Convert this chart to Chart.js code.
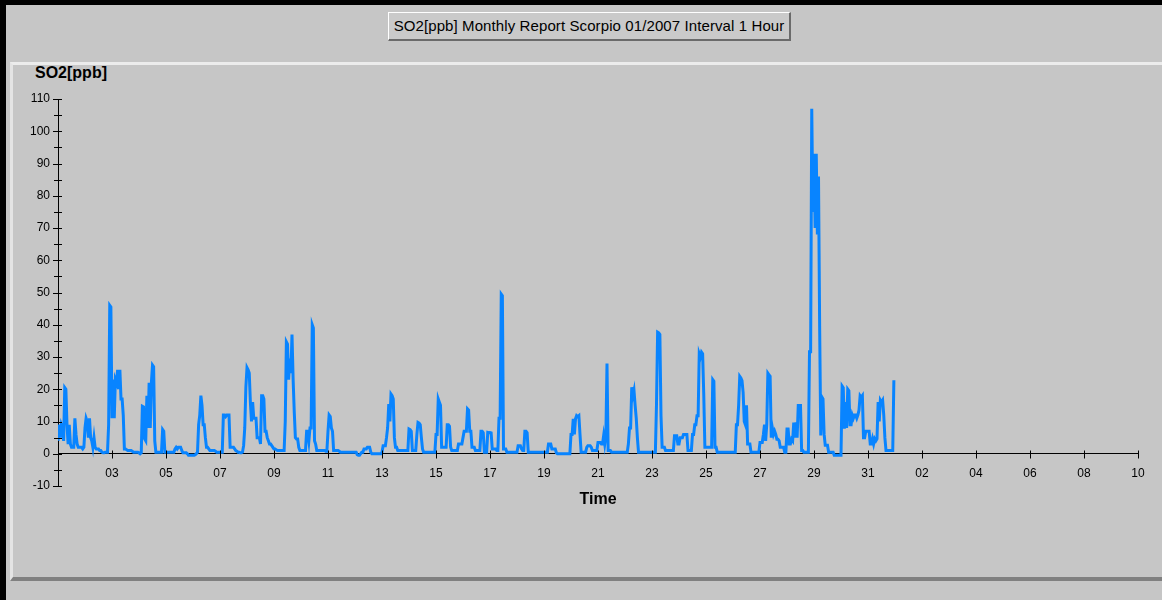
<!DOCTYPE html>
<html>
<head>
<meta charset="utf-8">
<title>SO2 Monthly Report</title>
<script src="https://cdn.jsdelivr.net/npm/chart.js@4.4.0/dist/chart.umd.min.js"></script>
<style>
  html, body { margin: 0; padding: 0; }
  body {
    width: 1162px; height: 600px; position: relative; overflow: hidden;
    background: #c6c6c6; font-family: "Liberation Sans", Arial, sans-serif;
  }
  .frame-top { position: absolute; left: 0; top: 0; width: 1162px; height: 5px; background: #000; }
  .frame-left { position: absolute; left: 0; top: 0; width: 6px; height: 600px; background: #000; }
  .panel {
    position: absolute; left: 10px; top: 62px; width: 1152px; height: 519px; box-sizing: border-box;
    border-top: 3px solid #ececec; border-left: 3px solid #e4e4e4; border-bottom: 4px solid #808080;
  }
  .title-btn {
    position: absolute; left: 388px; top: 12px; width: 403px; height: 29px; box-sizing: border-box;
    background: #cacaca; color: #000; font-size: 15px; letter-spacing: 0.1px; line-height: 25px; text-align: center;
    border-top: 1px solid #fff; border-left: 1px solid #fff;
    border-right: 2px solid #6a6a6a; border-bottom: 2px solid #6a6a6a;
  }
  .y-title { position: absolute; left: 35px; top: 65px; font-size: 16px; line-height: 16px; font-weight: bold; color: #000; }
  #chart { position: absolute; left: 0; top: 0; }
</style>
</head>
<body>
<div class="frame-top"></div>
<div class="frame-left"></div>
<div class="panel"></div>
<div class="title-btn">SO2[ppb] Monthly Report Scorpio 01/2007 Interval 1 Hour</div>
<div class="y-title">SO2[ppb]</div>
<canvas id="chart" width="1162" height="600"></canvas>

<script>
// hourly SO2 [ppb], Jan 2007, one row per day (00:00 .. 23:00)
const hourlySO2 = [
    4, 9, 5, 9, 8, 4, 20.5, 20, 9, 3, 9, 3, 2, 2, 2, 11, 6, 3, 2, 2, 2, 2, 1.5, 2,                       // 01
    8, 11, 10, 5, 11, 5, 4, 2, 5, 2, 1.5, 1.5, 1.5, 1, 1, 0.5, 0.3, 0.3, 0.5, 0.5, 0.5, 9, 46, 45.5,     // 02
    11, 23, 11, 23, 22, 26, 20, 26, 17, 17, 12, 1.5, 1.5, 1.2, 1, 1, 1, 1, 0.8, 0.5, 0.5, 0.5, 0.5, 0.5, // 03
    0.3, 0, 0.3, 14.7, 14.5, 4.6, 4, 18, 8, 22, 8, 22, 27.5, 27, 4, 0.5, 0.5, 0.5, 0.5, 0.5, 0.5, 7.5, 7, 0.5, // 04
    0.5, 0.5, 0.5, 0.5, 0.5, 0.5, 0.5, 0.5, 1.5, 2, 1.5, 2, 2, 2, 1, 0.3, 0.3, 0.3, 0.3, 0, -0.5, -0.5, -0.5, -0.5, // 05
    -0.5, -0.5, -0.3, 0, 0.5, 9, 12, 18, 15, 9, 9, 5, 2, 2, 1.5, 1, 1, 1, 1, 1, 0.8, 0.5, 0.5, 0.5,      // 06
    0.5, 0.5, 0.5, 12, 12, 11.5, 12, 12, 12, 2, 2, 2, 2, 1.5, 1, 0.8, 0.5, 0.5, 0.3, 0.3, 0.5, 2.5, 8, 20.7, // 07
    26.7, 26, 25, 16, 10, 16, 11, 11, 11, 5, 5, 5, 3, 18, 18, 17, 7, 7, 5, 4, 3, 3, 2.5, 2,              // 08
    1.5, 1.5, 1.2, 1, 1, 1, 1, 1, 1, 1, 10, 34.7, 34, 23, 29.5, 25, 37, 23, 13, 5, 4.6, 4.6, 2, 1,      // 09
    1, 1, 1, 1, 1, 7, 7, 4, 8, 8, 40, 39, 4, 3, 1, 1, 1, 1, 1, 1, 1, 1, 0.8, 0.8,                        // 10
    7, 12, 11.5, 8, 7, 1, 1, 1, 1, 1, 0.8, 0.5, 0.5, 0.5, 0.5, 0.5, 0.5, 0.5, 0.5, 0.5, 0.5, 0.5, 0.5, 0.5, // 11
    0.5, 0.5, -0.3, -0.5, -0.5, 0, 0.5, 0.5, 1.5, 1.5, 1.5, 2, 2, 2, 0.5, 0, 0, 0, 0, 0, 0, 0, 0, 0,   // 12
    0.5, 2.5, 2.5, 2.5, 5, 8, 15.4, 10, 18.5, 18, 17, 5, 2, 2, 1, 1, 1, 1, 1, 1, 1, 1, 1, 1,            // 13
    7.7, 7.5, 7, 1, 1, 1, 1, 6, 9.7, 9.5, 9, 5, 1.5, 0.5, 0.5, 0.5, 0.5, 0.5, 0.5, 0.5, 0.5, 0.5, 0.5, 0.5, // 14
    6, 6, 17, 16, 15, 2, 2, 2, 2, 2, 9, 9, 8.5, 2, 1, 1, 1, 1, 1, 1, 3, 3, 3, 3,                         // 15
    5, 7, 7, 7, 13.9, 13.5, 7, 7, 2, 2, 2, 1, 1, 1, 1, 1, 7, 7, 6.5, 0.5, 0.5, 0.5, 6.6, 6.5,           // 16
    6.6, 6.5, 1.5, 1.5, 1.5, 1.5, 1, 1, 11, 11, 49.5, 49, 1.5, 1.5, 1.5, 0.5, 0.5, 0.5, 0.5, 0.5, 0.5, 0.5, 0.5, 0.5, // 17
    0.5, 2.5, 2.5, 2.5, 1.5, 1, 1, 7, 7, 6.5, 0.5, 0.5, 0.5, 0.5, 0.5, 0.5, 0.5, 0.5, 0.5, 0.5, 0.5, 0.5, 0.5, 0.5, // 18
    0.5, 0.5, 0.5, 0.5, 3, 3, 3, 1.5, 1.5, 1.5, 1.5, 0.3, 0, 0, 0, 0, 0, 0, 0, 0, 0, 0, 0, 0,           // 19
    6, 6, 10.8, 6, 10.8, 11.8, 11.5, 11.8, 6, 0.5, 0.5, 0.5, 0.5, 0.5, 2, 2.5, 2.5, 2.5, 2, 1, 1, 1, 1, 1, // 20
    3.5, 3.5, 3.5, 3, 3, 5.6, 3, 5.6, 28, 1, 1, 1, 0.5, 0.5, 0.5, 0.5, 0.5, 0.5, 0.5, 0.5, 0.5, 0.5, 0.5, 0.5, // 21
    0.5, 0.5, 0.5, 3, 8, 8, 20.6, 18, 19.6, 15, 11, 5, 0.5, 0.5, 0.5, 0.5, 0.5, 0.5, 0.5, 0.5, 0.5, 0.5, 0.5, 0.5, // 22
    0.5, 0.5, 0.5, 0.5, 15.4, 37.7, 37.5, 37, 11.8, 2, 2, 2, 1, 1, 1, 1, 1, 1, 1, 1, 5.6, 5.6, 5.6, 3,  // 23
    3, 5, 5, 5, 6, 6, 6, 6, 1, 1, 1, 1, 6, 6, 9, 9, 11.8, 11.8, 31, 30, 31.5, 31, 18.5, 2,             // 24
    2, 2, 2, 2, 2, 2, 23, 22.5, 2, 2, 0.5, 0.5, 0.5, 0.5, 0.5, 0.5, 0.5, 0.5, 0.5, 0.5, 0.5, 0.5, 0.5, 0.5, // 25
    0.5, 0.5, 0.5, 9, 9, 15, 24, 23.5, 22.7, 19, 10, 9, 15, 3, 3, 3, 0.5, 0.5, 0.5, 0.5, 0.5, 0.5, 0.5, 0.5, // 26
    3.5, 3.5, 3.5, 6, 9, 4, 9, 25, 24.5, 24, 5, 8, 6, 7, 6, 4.5, 4.5, 4, 2, 2, 2, 2, 0.5, 0.5,         // 27
    7.7, 7.7, 3, 3, 4.5, 4, 9.7, 5, 9.7, 5, 15, 15, 15, 1, 1, 0.5, 0.5, 0.5, 0.5, 0.5, 31.6, 31.6, 107, 75, // 28
    93, 70, 93, 68, 86, 40, 5.7, 17.6, 17, 6, 2.6, 2.6, 2.6, 0.5, 0.5, 0.5, 0.5, 0.5, -0.5, -0.5, -0.5, -0.5, -0.5, -0.5, // 29
    -0.5, 21, 20.5, 7.8, 16, 8, 20, 19.5, 9, 9, 12, 11, 12, 12, 11, 12, 13.5, 18, 17.5, 18, 5, 5, 7, 7, // 30
    7, 7, 3, 3, 4.6, 3, 4.6, 4, 4.6, 16, 10, 16.6, 16, 16.6, 12, 5, 1, 1, 1, 1, 1, 1, 1, 22.8          // 31
];

// x axis runs 01.01 00:00 .. 10.02 00:00 in hours, a label every 2 days
const dayLabels = ['', '03', '05', '07', '09', '11', '13', '15', '17', '19', '21',
    '23', '25', '27', '29', '31', '02', '04', '06', '08', '10'];
const hoursPerTick = 48;
const yMin = -10;
const yMax = 110;

const FONT = '"Liberation Sans", Arial, sans-serif';

// small cross marks on both sides of the axes, like the original plot
const crossTicks = {
    id: 'crossTicks',
    afterDraw(chart) {
        const { ctx, scales: { x, y } } = chart;
        ctx.save();
        ctx.strokeStyle = '#000';
        ctx.lineWidth = 1;
        ctx.beginPath();
        y.ticks.forEach(t => {
            const py = Math.round(y.getPixelForValue(t.value)) + 0.5;
            const major = t.value % 10 === 0;
            ctx.moveTo(y.right - (major ? 5 : 4), py);
            ctx.lineTo(y.right + 4, py);
        });
        const y0 = Math.round(y.getPixelForValue(0)) + 0.5;
        x.ticks.forEach(t => {
            if (t.value === 0) return;
            const px = Math.round(x.getPixelForValue(t.value)) + 0.5;
            ctx.moveTo(px, y0 - 4);
            ctx.lineTo(px, y0 + 4);
        });
        ctx.stroke();
        ctx.restore();
    }
};

new Chart(document.getElementById('chart'), {
    type: 'line',
    data: {
        datasets: [{
            label: 'SO2[ppb]',
            data: hourlySO2.map((v, i) => ({ x: i, y: v })),
            borderColor: 'rgb(8, 132, 255)',
            borderWidth: 3,
            pointRadius: 0,
            tension: 0,
            fill: false
        }]
    },
    options: {
        responsive: false,
        animation: false,
        layout: { padding: { left: 0, right: 24, top: 99, bottom: 114 } },
        plugins: {
            legend: { display: false },
            tooltip: { enabled: false }
        },
        scales: {
            x: {
                type: 'linear',
                position: { y: 0 },
                min: 0,
                max: hoursPerTick * (dayLabels.length - 1),
                grid: { drawOnChartArea: false, drawTicks: false },
                border: { color: '#000', width: 1 },
                ticks: {
                    stepSize: hoursPerTick,
                    autoSkip: false,
                    maxRotation: 0,
                    padding: 13,
                    color: '#000',
                    font: { family: FONT, size: 12 },
                    callback: value => dayLabels[Math.round(value / hoursPerTick)]
                },
                title: {
                    display: true,
                    text: 'Time',
                    color: '#000',
                    font: { family: FONT, size: 16, weight: 'bold' },
                    padding: { top: -4, bottom: 0 }
                }
            },
            y: {
                min: yMin,
                max: yMax,
                grid: { drawOnChartArea: false, drawTicks: false },
                border: { color: '#000', width: 1 },
                ticks: {
                    stepSize: 5,
                    autoSkip: false,
                    padding: 8,
                    color: '#000',
                    font: { family: FONT, size: 12 },
                    callback: value => (value % 10 === 0 ? value : '')
                },
                afterFit: scale => { scale.width = 58; }
            }
        }
    },
    plugins: [crossTicks]
});
</script>
</body>
</html>
